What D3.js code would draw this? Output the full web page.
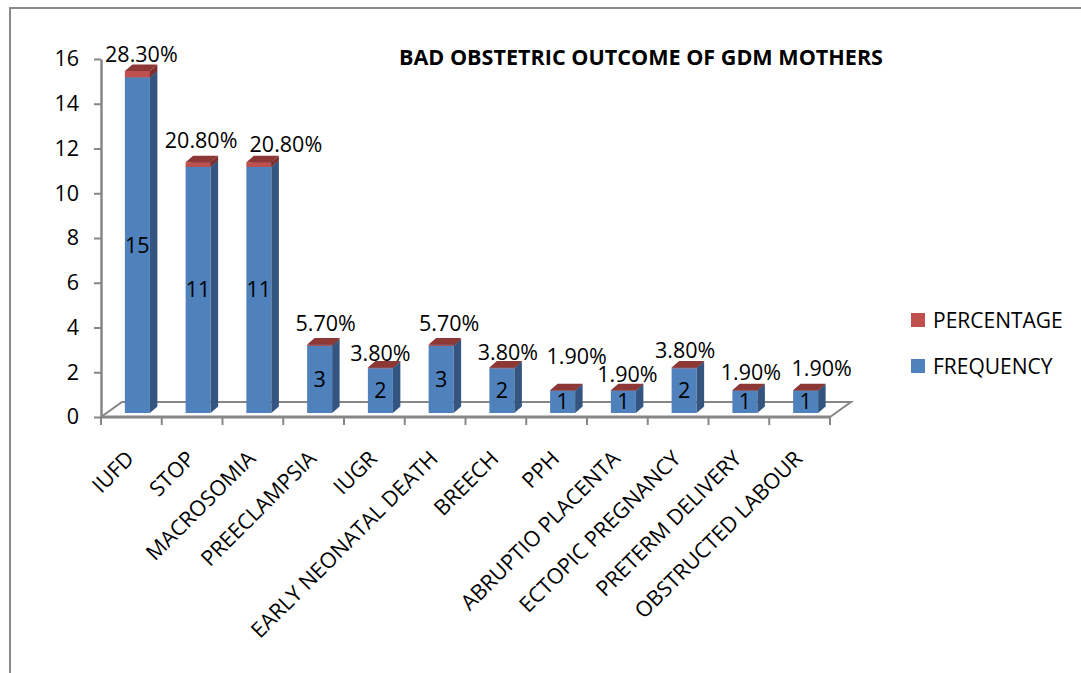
<html>
<head>
<style>
  body { margin: 0; background: #fff; }
  text { font-family: "Open Sans", sans-serif; fill: #000; }
  .axisline { stroke: #868686; fill: none; }
</style>
</head>
<body>
<svg width="1081" height="673"></svg>
<script src="https://d3js.org/d3.v7.min.js"></script>
<script>
  var categories = ["IUFD", "STOP", "MACROSOMIA", "PREECLAMPSIA", "IUGR", "EARLY NEONATAL DEATH",
                    "BREECH", "PPH", "ABRUPTIO PLACENTA", "ECTOPIC PREGNANCY", "PRETERM DELIVERY", "OBSTRUCTED LABOUR"]
  var frequency = [15, 11, 11, 3, 2, 3, 2, 1, 1, 2, 1, 1]
  var percentage = [28.3, 20.8, 20.8, 5.7, 3.8, 5.7, 3.8, 1.9, 1.9, 3.8, 1.9, 1.9]
  var yTicks = [0, 2, 4, 6, 8, 10, 12, 14, 16]
  var seriesNames = ["PERCENTAGE", "FREQUENCY"]

  // where excel left the percentage labels (dx, dy from the default spot)
  var pctNudge = [[4, -3], [3, -8], [27, -4], [6, -7], [0, 0], [8, -7],
                  [6, -1], [14, -20], [4, -2], [1, -3], [6, -4], [16, -8]]

  const svg = d3.select('svg')

  // outer frame
  svg.append('path').attr('d', 'M10,673 V8 H1081')
    .attr('fill', 'none').attr('stroke', '#8a8a8a').attr('stroke-width', 2)

  const y = d3.scaleLinear().domain([0, 16]).range([417, 59])
  const x = d3.scaleBand().domain(categories).range([101, 830])
  const bw = x.bandwidth()
  const floorD = {dx: 21, dy: -15}   // depth of the floor
  const front = {dx: 6, dy: -4}      // bars sit a bit back from the axis
  const barD = {dx: 7.5, dy: -6.5}   // depth of each bar
  const barW = 25

  // floor
  const x0 = 101, x1 = 830, yb = y(0)
  svg.append('path')
    .attr('d', `M${x0},${yb} L${x0 + floorD.dx},${yb + floorD.dy} L${x1 + floorD.dx},${yb + floorD.dy} L${x1},${yb}`)
    .attr('class', 'axisline').attr('stroke-width', 2)

  // bars
  const colors = {
    FREQUENCY: {front: '#4F81BD', side: '#33557F', top: '#3F6899'},
    PERCENTAGE: {front: '#C0504D', side: '#7D302E', top: '#8E3836'}
  }

  function box(g, cx, v0, v1, c) {
    const l = cx - barW / 2, r = cx + barW / 2
    const b = y(v0) + front.dy, t = y(v1) + front.dy
    g.append('rect').attr('x', l).attr('y', t).attr('width', barW).attr('height', b - t).attr('fill', c.front)
    g.append('path')
      .attr('d', `M${r},${b} L${r + barD.dx},${b + barD.dy} L${r + barD.dx},${t + barD.dy} L${r},${t}Z`)
      .attr('fill', c.side)
    g.append('path')
      .attr('d', `M${l},${t} L${l + barD.dx},${t + barD.dy} L${r + barD.dx},${t + barD.dy} L${r},${t}Z`)
      .attr('fill', c.top)
  }

  const bars = svg.append('g')
  categories.forEach(function (cat, i) {
    const cx = x(cat) + bw / 2 + front.dx
    const g = bars.append('g')
    const f = frequency[i], p = percentage[i] / 100
    box(g, cx, 0, f, colors.FREQUENCY)
    box(g, cx, f, f + p, colors.PERCENTAGE)

    g.append('text')
      .attr('x', cx).attr('y', (y(0) + y(f)) / 2 + front.dy)
      .attr('dy', '0.35em').attr('text-anchor', 'middle')
      .style('font-size', '21.5px').text(f)

    const topY = y(f + p) + front.dy + barD.dy
    g.append('text')
      .attr('x', cx + pctNudge[i][0]).attr('y', topY + pctNudge[i][1])
      .attr('text-anchor', 'middle')
      .style('font-size', '21.5px').text(percentage[i].toFixed(2) + '%')
  })

  // y axis
  const yAxis = d3.axisLeft(y).tickValues(yTicks).tickSize(7).tickSizeOuter(0).tickPadding(15)
  const ya = svg.append('g').attr('transform', 'translate(101,0)').call(yAxis)
  ya.select('.domain').attr('stroke', '#868686').attr('stroke-width', 2.5)
  ya.selectAll('.tick line').attr('stroke', '#868686').attr('stroke-width', 2)
  ya.selectAll('.tick text').style('font-size', '21.5px').attr('fill', '#000')
    .style('font-family', '"Open Sans", sans-serif')

  // x axis line, ticks at band edges
  svg.append('line').attr('x1', x0).attr('x2', x1).attr('y1', yb).attr('y2', yb)
    .attr('class', 'axisline').attr('stroke-width', 3)
  svg.append('g').selectAll('line')
    .data(d3.range(categories.length + 1))
    .enter().append('line')
    .attr('x1', d => x0 + d * x.step()).attr('x2', d => x0 + d * x.step())
    .attr('y1', yb).attr('y2', yb + 8)
    .attr('class', 'axisline').attr('stroke-width', 2)

  svg.append('g').selectAll('text')
    .data(categories)
    .enter().append('text')
    .attr('transform', d => `translate(${x(d) + bw / 2 + 4},460) rotate(-45)`)
    .attr('text-anchor', 'end')
    .style('font-size', '21.5px')
    .text(d => d)

  // title
  svg.append('text')
    .attr('x', 641).attr('y', 65).attr('text-anchor', 'middle')
    .style('font-size', '21px').style('font-weight', 'bold')
    .attr('textLength', 484).attr('lengthAdjust', 'spacingAndGlyphs')
    .text('BAD OBSTETRIC OUTCOME OF GDM MOTHERS')

  // legend
  const legend = svg.append('g').selectAll('g')
    .data(seriesNames)
    .enter().append('g')
    .attr('transform', (d, i) => `translate(911,${313 + i * 46})`)
  legend.append('rect').attr('width', 14).attr('height', 14).attr('fill', d => colors[d].front)
  legend.append('text').attr('x', 22).attr('y', 14.5)
    .style('font-size', '21px').text(d => d)
</script>
</body>
</html>
